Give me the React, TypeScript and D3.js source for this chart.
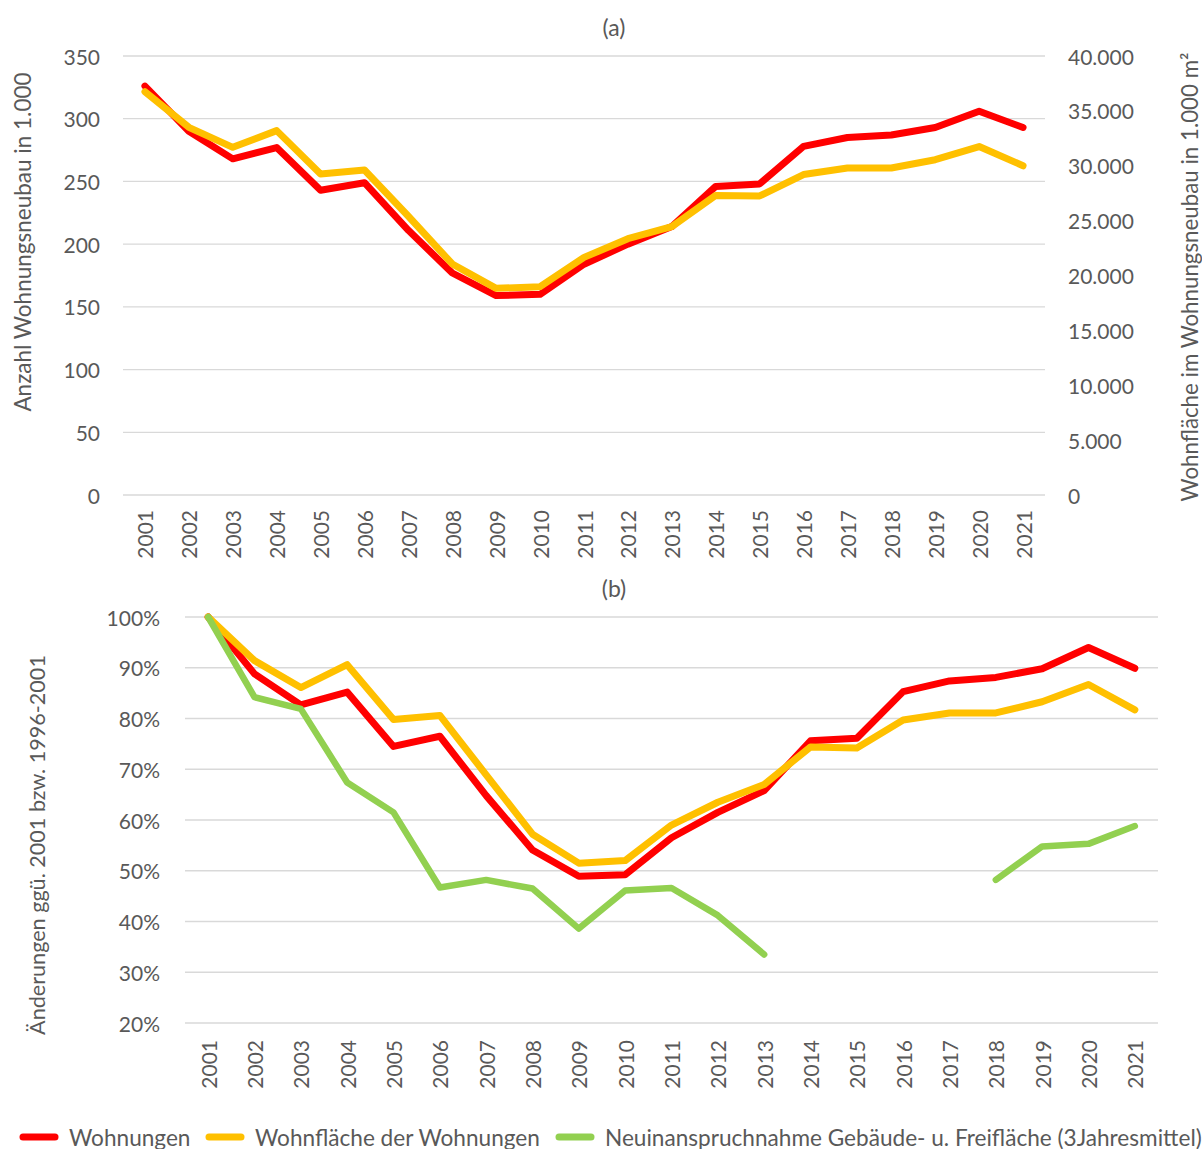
import React from 'react';
import * as d3 from 'd3';

// categories
const years = ['2001', '2002', '2003', '2004', '2005', '2006', '2007', '2008', '2009', '2010', '2011',
  '2012', '2013', '2014', '2015', '2016', '2017', '2018', '2019', '2020', '2021'];

// panel (a): absolute values
const wohnungenA = [326, 290, 268, 277, 243, 249, 211, 177, 159, 160, 184, 200, 214, 246, 248, 278, 285, 287, 293, 306, 293];
const wohnflaecheA = [36750, 33500, 31680, 33200, 29250, 29610, 25400, 21050, 18830, 18980, 21650, 23350, 24450,
  27300, 27250, 29200, 29800, 29800, 30550, 31750, 30000];

// panel (b): change vs 2001 (%)
const wohnungenB = [100, 88.8, 82.7, 85.2, 74.5, 76.5, 64.8, 54.1, 48.9, 49.2, 56.5, 61.5, 65.8, 75.6, 76.1, 85.3,
  87.4, 88.1, 89.8, 94.0, 89.9];
const wohnflaecheB = [100, 91.4, 86.1, 90.6, 79.8, 80.6, 68.9, 57.2, 51.5, 52.0, 59.0, 63.5, 67.0, 74.4, 74.2, 79.7,
  81.1, 81.1, 83.3, 86.7, 81.7];
const flaecheB: (number | null)[] = [100, 84.2, 81.9, 67.4, 61.5, 46.7, 48.2, 46.5, 38.6, 46.1, 46.6, 41.2, 33.5,
  null, null, null, null, 48.2, 54.8, 55.3, 58.8];

const leftTicksA = [0, 50, 100, 150, 200, 250, 300, 350];
const rightTicksA = [0, 5000, 10000, 15000, 20000, 25000, 30000, 35000, 40000];
const ticksB = [20, 30, 40, 50, 60, 70, 80, 90, 100];

const legendItems = [
  { label: 'Wohnungen', color: '#FF0000' },
  { label: 'Wohnfläche der Wohnungen', color: '#FFC000' },
  { label: 'Neuinanspruchnahme Gebäude- u. Freifläche (3Jahresmittel)', color: '#92D050' }
];

const RED = '#FF0000';
const YELLOW = '#FFC000';
const GREEN = '#92D050';
const GRID = '#D9D9D9';
const TEXT = '#595959';
const FONT = 'Lato, "Open Sans", sans-serif';

const de = d3.formatLocale({ decimal: ',', thousands: '.', grouping: [3], currency: ['', '€'] });
const fmtThousands = de.format(',');

type Pt = { year: string; v: number | null };
const zipSeries = (vals: (number | null)[]): Pt[] => years.map((year, i) => ({ year, v: vals[i] }));

const App = (): JSX.Element => {
  const width = 1202;
  const height = 1149;

  // panel (a)
  const xA = d3.scaleBand().domain(years).range([123, 1045]).padding(0);
  const yLeftA = d3.scaleLinear().domain([0, 350]).range([495, 56]);
  const yRightA = d3.scaleLinear().domain([0, 40000]).range([495, 56]);

  // panel (b)
  const xB = d3.scaleBand().domain(years).range([185, 1158]).padding(0);
  const yB = d3.scaleLinear().domain([20, 100]).range([1023, 617]);

  const cx = (x: d3.ScaleBand<string>, y: string) => (x(y) as number) + x.bandwidth() / 2;

  const lineGen = (x: d3.ScaleBand<string>, y: d3.ScaleLinear<number, number>) =>
    d3.line<Pt>()
      .defined((d) => d.v !== null)
      .x((d) => cx(x, d.year))
      .y((d) => y(d.v as number));

  const pathProps = (color: string, w = 7) => ({
    fill: 'none',
    stroke: color,
    strokeWidth: w,
    strokeLinejoin: 'round' as const,
    strokeLinecap: 'round' as const
  });

  return (
    <svg width={width} height={height} style={{ position: 'absolute', left: 0, top: 0, background: '#fff' }}
      fontFamily={FONT}>
      {/* ---------- panel (a) ---------- */}
      <text x={614} y={27} textAnchor="middle" dominantBaseline="central" fontSize={23} fill={TEXT}>(a)</text>
      {leftTicksA.map((t) => (
        <g key={'ga' + t}>
          <line x1={123} x2={1045} y1={yLeftA(t)} y2={yLeftA(t)} stroke={GRID} strokeWidth={1.3} />
          <text x={100} y={yLeftA(t)} textAnchor="end" dominantBaseline="central" fontSize={21} fill={TEXT}>{t}</text>
        </g>
      ))}
      {rightTicksA.map((t) => (
        <text key={'ra' + t} x={1068} y={yRightA(t)} textAnchor="start" dominantBaseline="central" fontSize={21}
          fill={TEXT}>{fmtThousands(t)}</text>
      ))}
      {years.map((y) => (
        <text key={'xa' + y} transform={`translate(${cx(xA, y)},510) rotate(-90)`} textAnchor="end"
          dominantBaseline="central" fontSize={21} fill={TEXT}>{y}</text>
      ))}
      <text transform="translate(22,242) rotate(-90)" textAnchor="middle" dominantBaseline="central" fontSize={22.5}
        fill={TEXT}>Anzahl Wohnungsneubau in 1.000</text>
      <text transform="translate(1189,277) rotate(-90)" textAnchor="middle" dominantBaseline="central" fontSize={22.3}
        fill={TEXT}>Wohnfläche im Wohnungsneubau in 1.000 m²</text>
      <path d={lineGen(xA, yLeftA)(zipSeries(wohnungenA)) || ''} {...pathProps(RED)} />
      <path d={lineGen(xA, yRightA)(zipSeries(wohnflaecheA)) || ''} {...pathProps(YELLOW)} />

      {/* ---------- panel (b) ---------- */}
      <text x={614} y={588} textAnchor="middle" dominantBaseline="central" fontSize={23} fill={TEXT}>(b)</text>
      {ticksB.map((t) => (
        <g key={'gb' + t}>
          <line x1={185} x2={1158} y1={yB(t)} y2={yB(t)} stroke={GRID} strokeWidth={1.3} />
          <text x={160} y={yB(t)} textAnchor="end" dominantBaseline="central" fontSize={21} fill={TEXT}>{t}%</text>
        </g>
      ))}
      {years.map((y) => (
        <text key={'xb' + y} transform={`translate(${cx(xB, y)},1040) rotate(-90)`} textAnchor="end"
          dominantBaseline="central" fontSize={21} fill={TEXT}>{y}</text>
      ))}
      <text transform="translate(37,845) rotate(-90)" textAnchor="middle" dominantBaseline="central" fontSize={21.6}
        fill={TEXT}>Änderungen ggü. 2001 bzw. 1996-2001</text>
      <path d={lineGen(xB, yB)(zipSeries(wohnungenB)) || ''} {...pathProps(RED)} />
      <path d={lineGen(xB, yB)(zipSeries(wohnflaecheB)) || ''} {...pathProps(YELLOW)} />
      <path d={lineGen(xB, yB)(zipSeries(flaecheB)) || ''} {...pathProps(GREEN, 6.5)} />

      {/* ---------- legend ---------- */}
      {legendItems.map((item, i) => {
        const x0 = [20, 206, 556][i];
        return (
          <g key={item.label}>
            <line x1={x0 + 3} x2={x0 + 35} y1={1137} y2={1137} stroke={item.color} strokeWidth={7}
              strokeLinecap="round" />
            <text x={x0 + 49} y={1137} dominantBaseline="central" fontSize={22.6} fill={TEXT}>{item.label}</text>
          </g>
        );
      })}
    </svg>
  );
};

export default App;
